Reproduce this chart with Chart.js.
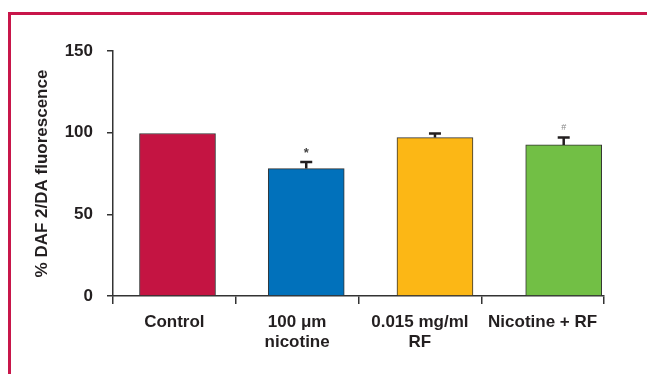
<!DOCTYPE html>
<html>
<head>
<meta charset="utf-8">
<title>DAF 2/DA fluorescence</title>
<script src="https://cdn.jsdelivr.net/npm/chart.js@4/dist/chart.umd.min.js"></script>
<style>
  html, body { margin: 0; padding: 0; background: #fff; overflow: hidden; }
  #frame {
    position: absolute; left: 8px; top: 12px; width: 700px; height: 400px;
    border-top: 3px solid #c8164a; border-left: 3px solid #c8164a;
  }
  #chart { position: absolute; left: 0; top: 0; }
</style>
</head>
<body>
<div id="frame"></div>
<canvas id="chart" width="647" height="374"></canvas>
<script>
// data
const categories = ['Control', ['100 μm', 'nicotine'], ['0.015 mg/ml', 'RF'], 'Nicotine + RF']
const values = [99.5, 78, 97, 92.5]
const errors = [0, 4, 2.5, 4.5]
const markers = ['', '*', '', '#']
const barColors = ['#c41442', '#0171bb', '#fcb715', '#72bf45']
const yTicks = [0, 50, 100, 150]

const FONT = '"Liberation Sans", Arial, Helvetica, sans-serif'
const INK = '#231f20'

// upward error bars + significance marks
const errorBars = {
  id: 'errorBars',
  afterDatasetsDraw (chart) {
    const { ctx } = chart
    const y = chart.scales.y
    const meta = chart.getDatasetMeta(0)
    ctx.save()
    meta.data.forEach((bar, i) => {
      const top = y.getPixelForValue(values[i] + errors[i])
      if (errors[i] > 0) {
        ctx.strokeStyle = INK
        ctx.lineWidth = 2.5
        ctx.beginPath()
        ctx.moveTo(bar.x, bar.y)
        ctx.lineTo(bar.x, top)
        ctx.moveTo(bar.x - 6, top)
        ctx.lineTo(bar.x + 6, top)
        ctx.stroke()
      }
      if (markers[i] === '*') {
        ctx.fillStyle = '#444'
        ctx.font = 'bold 13px ' + FONT
        ctx.textAlign = 'center'
        ctx.textBaseline = 'middle'
        ctx.fillText('*', bar.x, top - 9)
      } else if (markers[i] === '#') {
        ctx.fillStyle = '#888'
        ctx.font = '9px ' + FONT
        ctx.textAlign = 'center'
        ctx.textBaseline = 'middle'
        ctx.fillText('#', bar.x, top - 10)
      }
    })
    ctx.restore()
  }
}

new Chart(document.getElementById('chart').getContext('2d'), {
  type: 'bar',
  data: {
    labels: categories,
    datasets: [{
      data: values.map((v, i) => ({ x: i, y: v })),
      xAxisID: 'xb',
      backgroundColor: barColors,
      borderColor: '#333',
      borderWidth: 1,
      barThickness: 76
    }]
  },
  options: {
    responsive: false,
    animation: false,
    layout: { padding: { top: 51, right: 43, left: 0, bottom: 0 } },
    plugins: { legend: { display: false }, tooltip: { enabled: false } },
    scales: {
      x: {
        type: 'category',
        offset: true,
        grid: { drawOnChartArea: false, offset: true, tickLength: 8, color: '#333', lineWidth: 1.5 },
        border: { color: '#333', width: 1.5 },
        ticks: { color: INK, padding: 8, maxRotation: 0, font: { family: FONT, size: 17, weight: 'bold', lineHeight: 1.2 } },
        afterFit (scale) { scale.height = 78 }
      },
      xb: {
        type: 'linear',
        display: false,
        offset: false,
        min: -0.501,
        max: 3.313
      },
      y: {
        min: 0,
        max: 150,
        afterBuildTicks (scale) { scale.ticks = yTicks.map(v => ({ value: v })) },
        grid: { drawOnChartArea: false, tickLength: 6, color: '#333', lineWidth: 1.5 },
        border: { color: '#333', width: 1.5 },
        ticks: { color: INK, padding: 14, font: { family: FONT, size: 17, weight: 'bold' } },
        title: {
          display: true,
          text: '% DAF 2/DA fluorescence',
          color: INK,
          padding: { top: 32, bottom: 0 },
          font: { family: FONT, size: 17, weight: 'bold' }
        },
        afterFit (scale) { scale.width = 113 }
      }
    }
  },
  plugins: [errorBars]
})
</script>
</body>
</html>
